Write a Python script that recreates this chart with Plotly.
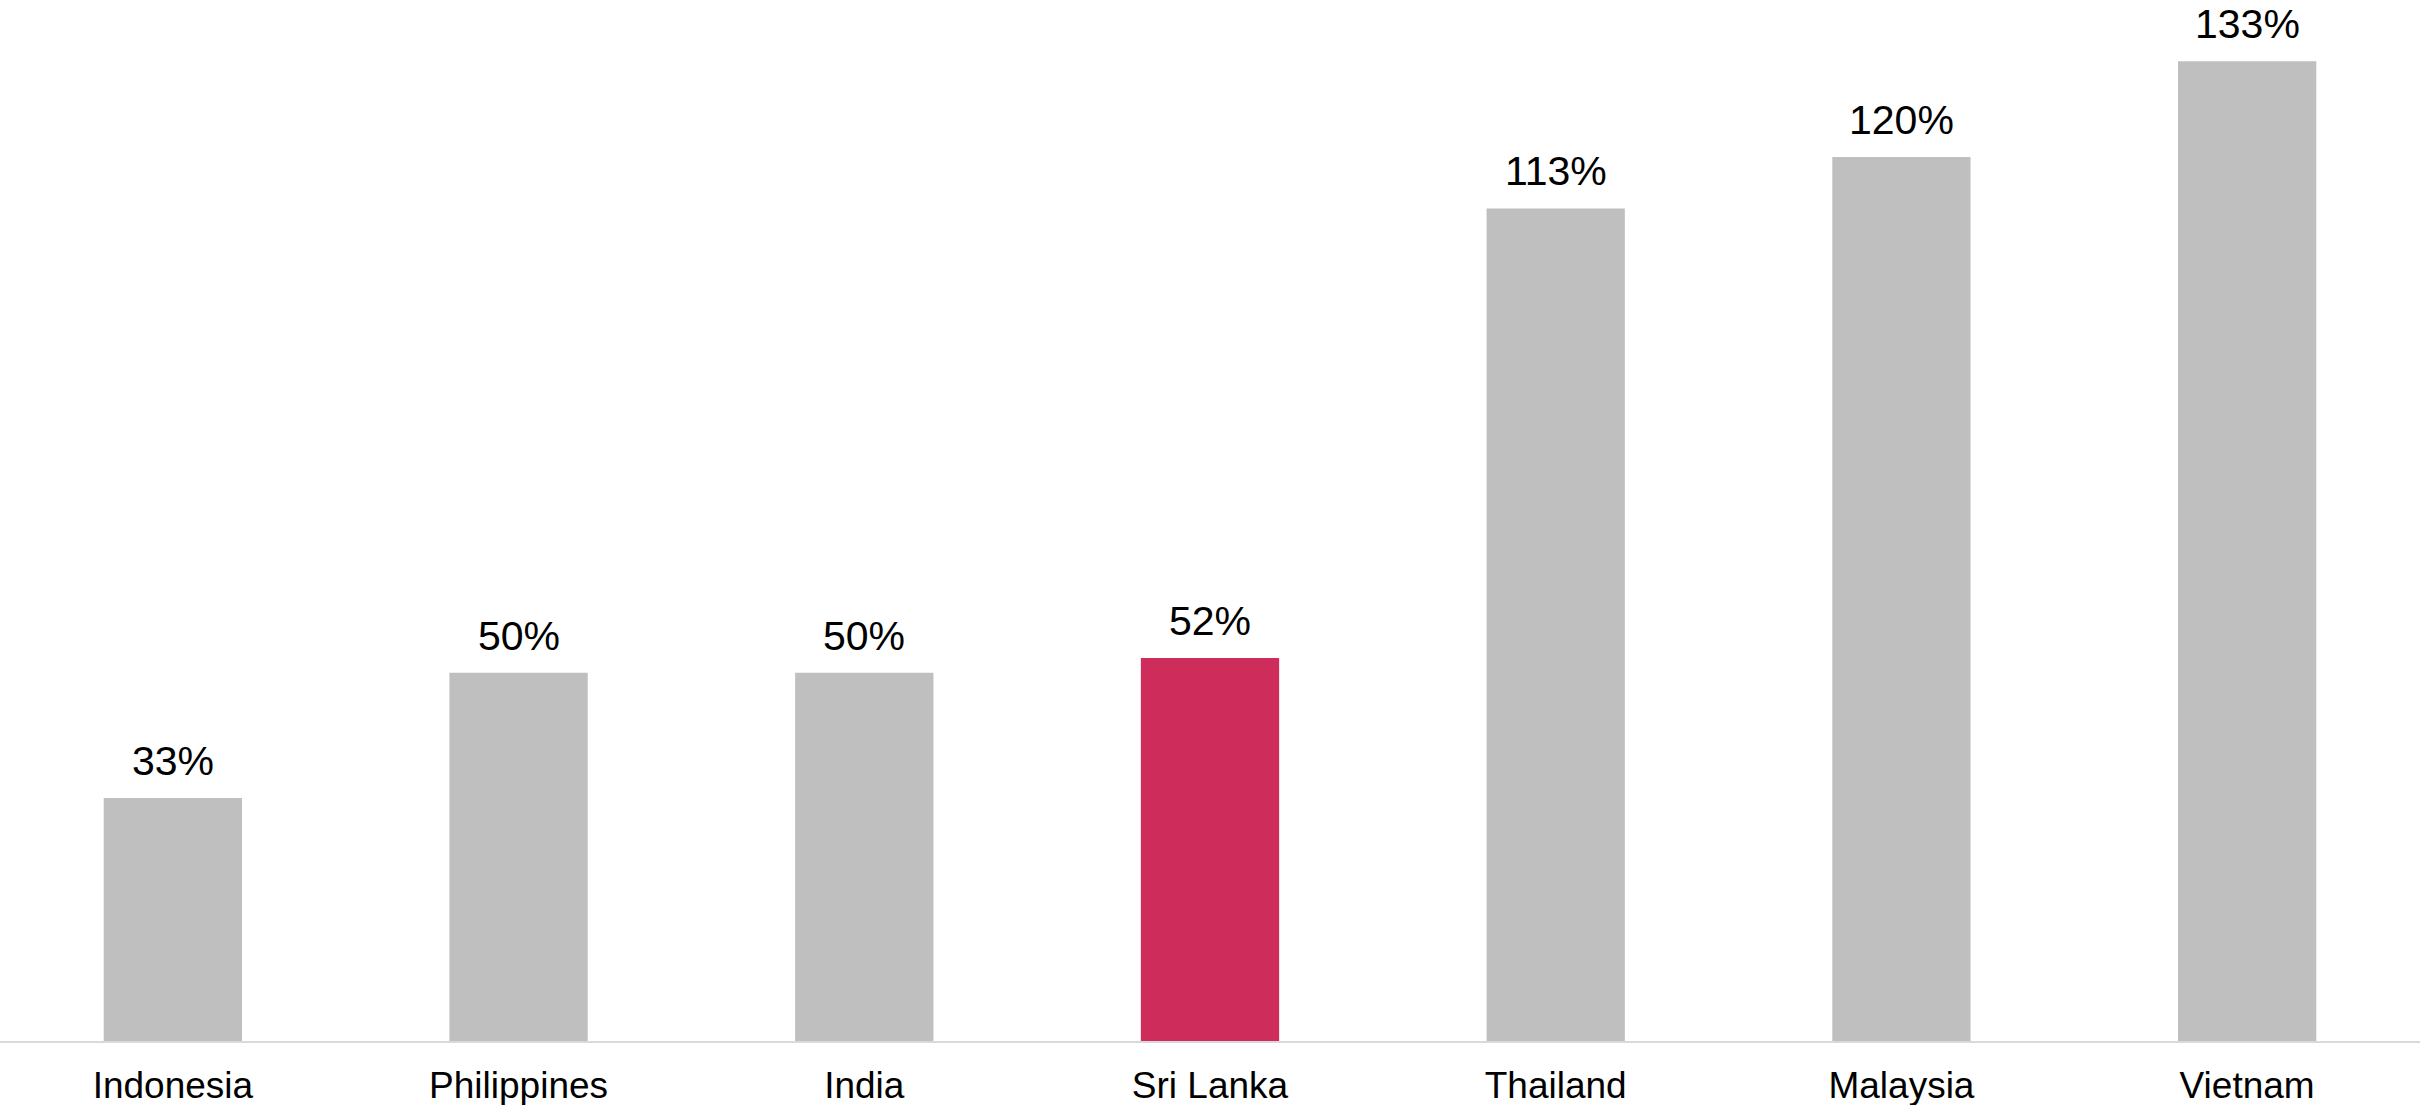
import plotly.graph_objects as go

countries = ["Indonesia", "Philippines", "India", "Sri Lanka", "Thailand", "Malaysia", "Vietnam"]
values = [33, 50, 50, 52, 113, 120, 133]
labels = ["33%", "50%", "50%", "52%", "113%", "120%", "133%"]

GREY = "#BFBFBF"
HIGHLIGHT = "#CE2D5B"
colors = [HIGHLIGHT if c == "Sri Lanka" else GREY for c in countries]

fig = go.Figure()
fig.add_trace(go.Bar(
    x=countries,
    y=values,
    marker=dict(color=colors, line=dict(width=0)),
    hoverinfo="skip",
))

# value labels above each bar
for c, v, t in zip(countries, values, labels):
    fig.add_annotation(
        x=c, y=v, text=t, showarrow=False,
        xanchor="center", yanchor="bottom", yshift=12,
        font=dict(family="Liberation Sans, Arial, sans-serif", size=41, color="#000000"),
    )

fig.update_layout(
    width=2420, height=1105,
    margin=dict(l=0, r=0, t=0, b=64),
    paper_bgcolor="white", plot_bgcolor="white",
    bargap=0.6,
    showlegend=False,
    font=dict(family="Liberation Sans, Arial, sans-serif", color="#000000"),
)
fig.update_xaxes(
    range=[-0.5, 6.5],
    showgrid=False, zeroline=False,
    showline=True, linecolor="#D9D9D9", linewidth=2,
    ticks="", tickfont=dict(size=37, color="#000000"),
    ticklabelstandoff=11,
)
fig.update_yaxes(
    range=[0, 141.3],
    visible=False, showgrid=False, zeroline=False,
)

fig.write_html("out.html")
